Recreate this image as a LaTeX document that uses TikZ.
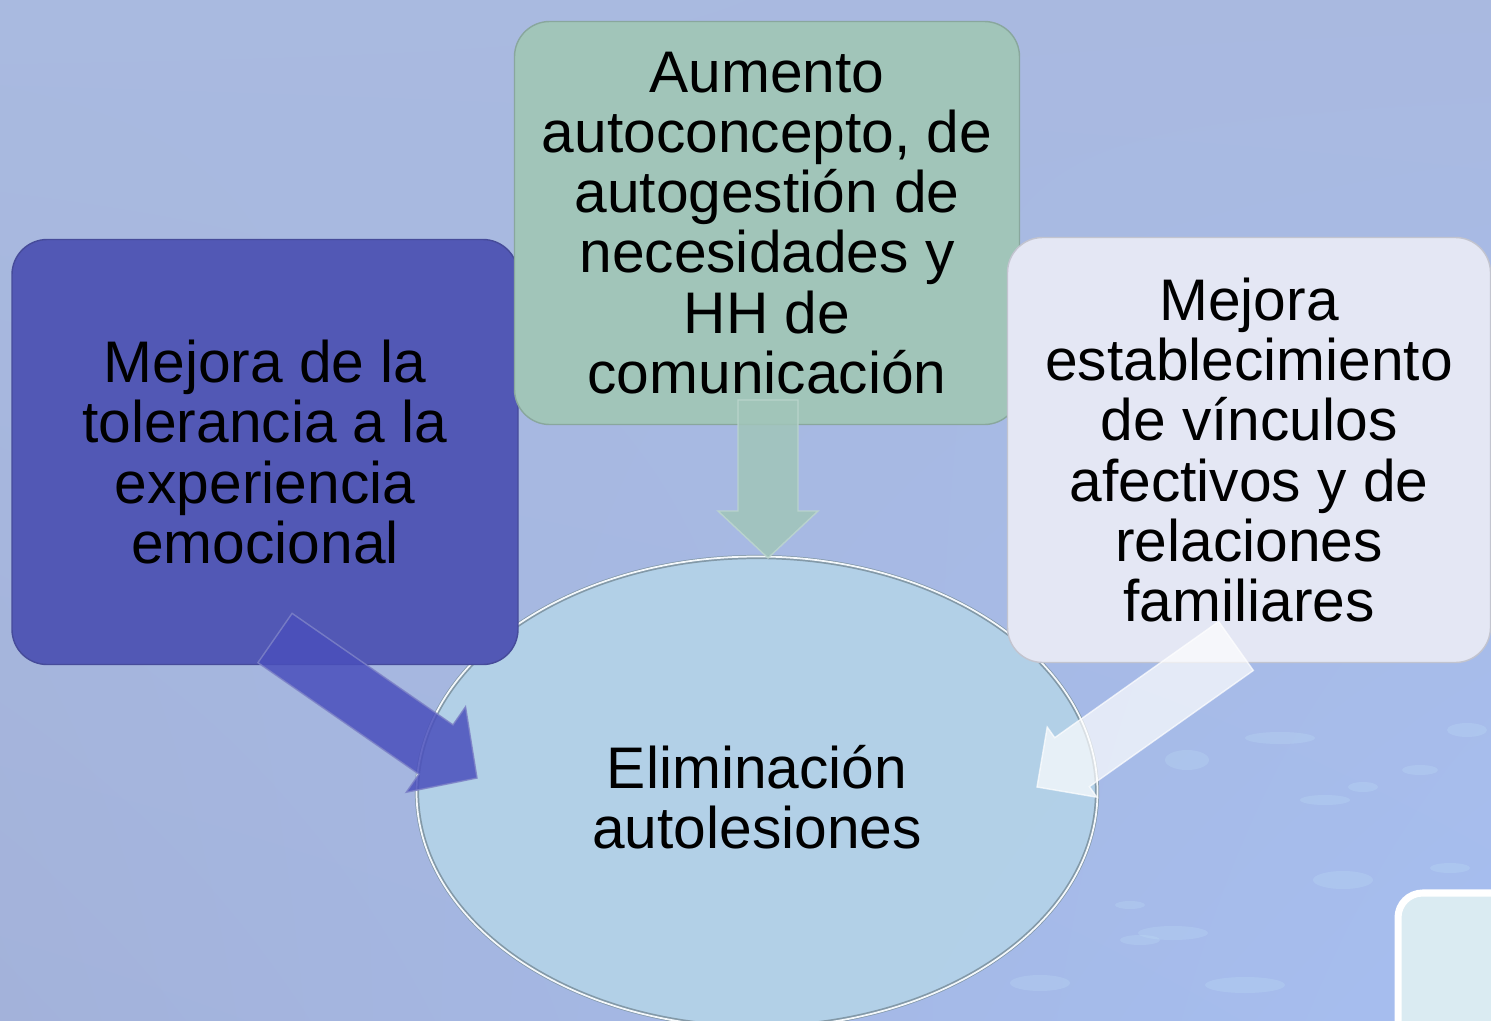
\documentclass[tikz,border=0pt]{standalone}
\usepackage{fontspec}
\setmainfont{Liberation Sans}
\usetikzlibrary{calc,shapes.geometric,shadings}

\definecolor{bgul}{HTML}{A9BAE0}
\definecolor{bgur}{HTML}{A9B9E0}
\definecolor{bgll}{HTML}{A3B2DA}
\definecolor{bglr}{HTML}{A6BEF0}
\definecolor{toleranz}{HTML}{5258B5}
\definecolor{concepto}{HTML}{A1C5B9}
\definecolor{vinculo}{HTML}{E4E7F4}
\definecolor{elimfill}{HTML}{B4D3E8}

\tikzset{
  box/.style={rectangle, rounded corners=10pt, align=center, inner sep=0pt,
    font=\fontsize{16.7}{17.1}\selectfont},
}

% block arrow: start, tip, style, head half width, head length
\newcommand\blockarrow[5]{%
  \coordinate (#1h) at ($(#2)!#5!(#1)$);
  \filldraw[#3] ($(#1)!0.3cm!90:(#2)$) -- ($(#1h)!0.3cm!90:(#2)$)
    -- ($(#1h)!#4!90:(#2)$) -- (#2) -- ($(#1h)!#4!-90:(#2)$)
    -- ($(#1h)!0.3cm!-90:(#2)$) -- ($(#1)!0.3cm!-90:(#2)$) -- cycle;
}

\begin{document}
\begin{tikzpicture}[x=0.1mm, y=-0.1mm]
\useasboundingbox (0,0) rectangle (1491,1021);
\clip (0,0) rectangle (1491,1021);
\shade[upper left=bgul, upper right=bgur, lower left=bgll, lower right=bglr]
  (0,0) rectangle (1491,1021);
% water spots
\foreach \x/\y/\rx/\ry in {1280/738/35/6, 1187/760/22/10, 1325/800/25/5, 1363/787/15/5,
    1467/730/20/7, 1343/880/30/9, 1173/933/35/7, 1245/985/40/8, 1450/868/20/5,
    1040/983/30/8, 1140/940/20/5, 1130/905/15/4, 1420/770/18/5}
  \fill[cyan!20!white, opacity=.18] (\x,\y) ellipse ({\rx*0.01cm} and {\ry*0.01cm});

\node[ellipse, fill=elimfill, draw=elimfill!70!black, line width=1.2pt, opacity=.9,
  minimum width=6.8cm, minimum height=4.7cm, inner sep=0pt] (elim) at (757,792) {};
\draw[white!85!elimfill, line width=.5pt] (elim) ellipse (3.405cm and 2.355cm);
\node[font=\fontsize{16.7}{17.1}\selectfont, align=center] at (elim.center)
  [yshift=-0.05cm] {Eliminación\\autolesiones};

\node[box, fill=toleranz, draw=toleranz!85!black, minimum width=5.06cm,
  minimum height=4.25cm] (tol) at (265,452)
  {Mejora de la\\tolerancia a la\\experiencia\\emocional};
\node[box, fill=concepto, draw=concepto!85!black, minimum width=5.05cm,
  minimum height=4.03cm] (auto) at (767,223)
  {Aumento\\autoconcepto, de\\autogestión de\\necesidades y\\HH de\\comunicación};
\node[box, fill=vinculo, draw=vinculo!85!black, minimum width=4.83cm,
  minimum height=4.25cm] (vinc) at (1249,450)
  {Mejora\\establecimiento\\de vínculos\\afectivos y de\\relaciones\\familiares};
\draw[white, line width=2pt, fill=cyan!12!white!90!gray, rounded corners=7pt]
  (1398,893) rectangle (1540,1060);

\coordinate (ta) at (768,400);
\coordinate (tb) at (768,558);
\coordinate (la) at (275,638);
\coordinate (lb) at (477,778);
\coordinate (ra) at (1236,646);
\coordinate (rb) at (1037,787);
\blockarrow{ta}{tb}{fill=concepto, draw=concepto!70!white, opacity=.85}{0.5cm}{0.47cm}
\blockarrow{la}{lb}{fill=toleranz!90!blue, draw=toleranz!75!white, opacity=.85}{0.52cm}{0.5cm}
\blockarrow{ra}{rb}{fill=white!95!vinculo, draw=white, opacity=.7}{0.43cm}{0.43cm}
\end{tikzpicture}
\end{document}
